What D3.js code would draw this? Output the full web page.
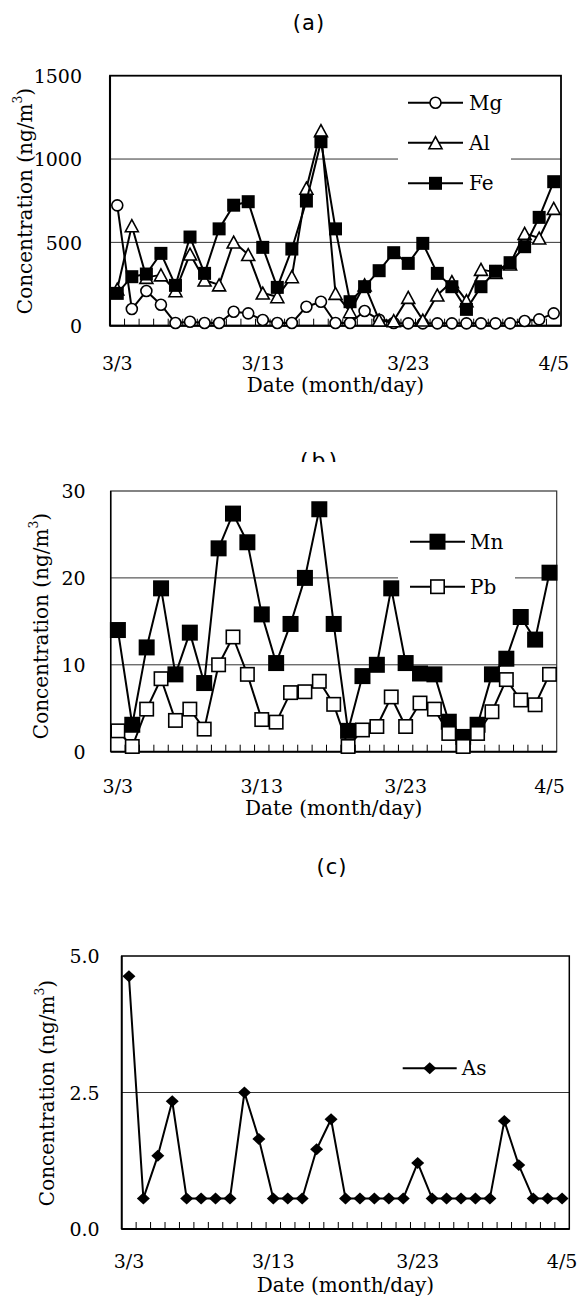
<!DOCTYPE html>
<html><head><meta charset="utf-8">
<script src="https://cdn.jsdelivr.net/npm/d3@7"></script>
<style>body{margin:0;background:#fff}</style>
</head><body>
<svg id="chart" width="585" height="1297"></svg>
<script>
// ---- data ----
const samples = [0,1,2,3,4,5,6,7,8,9,10,11,12,13,14,15,16,17,18,19,20,21,22,23,24,25,26,27,28,29,30];
const xTickIdx = [0,10,20,30];
const xTickLabels = ["3/3","3/13","3/23","4/5"];

const mgValues = [722,100,208,126,16,24,16,16,84,74,34,16,16,114,144,16,16,88,36,16,14,14,14,14,14,14,14,14,28,38,74];
const alValues = [220,600,290,305,210,430,274,245,502,427,196,174,294,825,1170,194,84,245,34,30,170,34,184,264,150,338,320,370,554,526,704];
const feValues = [194,294,310,434,242,532,314,581,723,744,470,230,460,748,1104,581,144,234,330,438,374,494,314,234,98,234,327,378,474,650,864];

const mnValues = [14.0,3.1,12.0,18.8,8.9,13.7,7.9,23.4,27.4,24.1,15.8,10.2,14.7,20.0,27.9,14.7,2.4,8.7,10.0,18.8,10.2,9.0,8.9,3.45,1.7,3.1,8.9,10.7,15.5,12.9,20.6];
const pbValues = [2.4,0.6,4.9,8.4,3.6,4.9,2.6,10.0,13.2,8.9,3.7,3.4,6.8,6.9,8.1,5.45,0.6,2.5,2.9,6.3,2.9,5.6,4.9,2.1,0.6,2.1,4.6,8.3,5.95,5.4,8.9];

const asValues = [4.63,0.56,1.34,2.34,0.56,0.56,0.56,0.56,2.50,1.65,0.56,0.56,0.56,1.46,2.01,0.56,0.56,0.56,0.56,0.56,1.21,0.56,0.56,0.56,0.56,0.56,1.98,1.17,0.56,0.56,0.56];

const yTicksA = [0,500,1000,1500];
const yTicksB = [0,10,20,30];
const yTicksC = [0,2.5,5];

const SERIF = "'DejaVu Serif', serif";
const SANS = "'DejaVu Sans', sans-serif";

const svg = d3.select("#chart");
svg.append("rect").attr("width",585).attr("height",1297).attr("fill","#fff");

// ---- marker shapes ----
function drawMarker(sel, type, size) {
  if (type === "circle") {
    sel.append("circle").attr("r", size/2).attr("fill","#fff").attr("stroke","#000").attr("stroke-width",1.6);
  } else if (type === "triangle") {
    const w = size, h = size*0.92;
    sel.append("path").attr("d", `M0,${-h/2}L${w/2},${h/2}L${-w/2},${h/2}Z`)
      .attr("fill","#fff").attr("stroke","#000").attr("stroke-width",1.6);
  } else if (type === "square") {
    sel.append("rect").attr("x",-size/2).attr("y",-size/2).attr("width",size).attr("height",size).attr("fill","#000");
  } else if (type === "osquare") {
    sel.append("rect").attr("x",-size/2+0.8).attr("y",-size/2+0.8).attr("width",size-1.6).attr("height",size-1.6)
      .attr("fill","#fff").attr("stroke","#000").attr("stroke-width",1.6);
  } else if (type === "diamond") {
    const w = size, h = size*0.92;
    sel.append("path").attr("d", `M0,${-h/2}L${w/2},0L0,${h/2}L${-w/2},0Z`).attr("fill","#000");
  }
}

function yLabel(g, x, y, fs) {
  const t = g.append("text").attr("transform", `translate(${x},${y}) rotate(-90)`)
    .attr("text-anchor","middle").attr("dominant-baseline","central")
    .attr("font-family", SERIF).attr("font-size", fs).attr("fill","#000");
  t.append("tspan").text("Concentration (ng/m");
  t.append("tspan").attr("baseline-shift","super").attr("font-size", fs*0.62).text("3");
  t.append("tspan").text(")");
}

function panel(o) {
  const g = svg.append("g");
  const x = d3.scaleBand().domain(samples).range([o.left, o.right]);
  const y = d3.scaleLinear().domain(o.yDomain).range([o.bottom, o.top]);
  const cx = i => x(i) + x.bandwidth()/2;

  // gridlines
  g.selectAll(null).data(o.grid).join("line")
    .attr("x1", o.left).attr("x2", o.right)
    .attr("y1", d => y(d)).attr("y2", d => y(d))
    .attr("stroke", "#333").attr("stroke-width", 1);

  // legend white backdrop
  if (o.legendBox) {
    const b = o.legendBox;
    g.append("rect").attr("x", b[0]).attr("y", b[1]).attr("width", b[2]).attr("height", b[3]).attr("fill", "#fff");
  }

  // frame
  g.append("rect").attr("x", o.left).attr("y", o.top)
    .attr("width", o.right - o.left).attr("height", o.bottom - o.top)
    .attr("fill", "none").attr("stroke", o.frameColor).attr("stroke-width", o.frameWidth);
  g.append("line").attr("x1", o.left).attr("x2", o.right).attr("y1", o.bottom).attr("y2", o.bottom)
    .attr("stroke", "#000").attr("stroke-width", 2);
  g.append("line").attr("x1", o.left).attr("x2", o.left).attr("y1", o.top).attr("y2", o.bottom)
    .attr("stroke", "#000").attr("stroke-width", o.frameWidth + 0.3);

  // minor ticks at category boundaries, pointing inward
  g.selectAll(null).data(samples.slice(1)).join("line")
    .attr("x1", d => x(d)).attr("x2", d => x(d))
    .attr("y1", o.bottom).attr("y2", o.bottom - 7)
    .attr("stroke", "#000").attr("stroke-width", 1);

  // y axis labels
  const ya = g.append("g").attr("transform", `translate(${o.left},0)`)
    .call(d3.axisLeft(y).tickValues(o.yTicks).tickSize(0).tickPadding(o.yPad).tickFormat(d3.format(o.yFmt)));
  ya.select(".domain").remove();
  ya.selectAll("text").attr("font-family", SERIF).attr("font-size", o.tickFs).attr("fill", "#000").attr("dy", "0.36em");

  // x axis labels
  const xa = g.append("g").attr("transform", `translate(0,${o.bottom})`)
    .call(d3.axisBottom(x).tickValues(xTickIdx).tickSize(0).tickPadding(o.xPad)
      .tickFormat(d => xTickLabels[xTickIdx.indexOf(d)]));
  xa.select(".domain").remove();
  xa.selectAll("text").attr("font-family", SERIF).attr("font-size", o.tickFs).attr("fill", "#000");

  // axis titles
  g.append("text").attr("x", (o.left + o.right)/2).attr("y", o.xTitleY)
    .attr("text-anchor", "middle").attr("font-family", SERIF).attr("font-size", o.titleFs).attr("fill","#000")
    .text("Date (month/day)");
  yLabel(g, o.yTitleX, o.yTitleY, o.titleFs);

  // series
  o.series.forEach(s => {
    const line = d3.line().x((d, i) => cx(samples[i])).y(d => y(d));
    g.append("path").datum(s.values).attr("d", line)
      .attr("fill", "none").attr("stroke", "#000").attr("stroke-width", 2).attr("stroke-linejoin","round");
    g.selectAll(null).data(s.values).join("g")
      .attr("transform", (d, i) => `translate(${cx(samples[i])},${y(d)})`)
      .each(function() { drawMarker(d3.select(this), s.marker, s.size); });
  });

  // legend
  o.series.forEach((s, k) => {
    const ly = o.legend.y[k];
    g.append("line").attr("x1", o.legend.x1).attr("x2", o.legend.x2).attr("y1", ly).attr("y2", ly)
      .attr("stroke", "#000").attr("stroke-width", 2);
    const mg = g.append("g").attr("transform", `translate(${(o.legend.x1 + o.legend.x2)/2},${ly})`);
    drawMarker(mg, s.marker, s.size);
    g.append("text").attr("x", o.legend.tx).attr("y", ly).attr("dy", "0.35em")
      .attr("font-family", SERIF).attr("font-size", o.legendFs).attr("fill","#000").text(s.name);
  });
}

// ---- titles ----
svg.append("text").attr("x", 309).attr("y", 30).attr("text-anchor","middle")
  .attr("font-family", SANS).attr("font-size", 21).attr("letter-spacing", 1).attr("fill","#000").text("(a)");

const clip = svg.append("defs").append("clipPath").attr("id","clipb");
clip.append("rect").attr("x", 0).attr("y", 0).attr("width", 585).attr("height", 462);
svg.append("text").attr("x", 320).attr("y", 468).attr("text-anchor","middle").attr("clip-path","url(#clipb)")
  .attr("font-family", SANS).attr("font-size", 22).attr("letter-spacing", 3).attr("fill","#000").text("(b)");

svg.append("text").attr("x", 332).attr("y", 874).attr("text-anchor","middle")
  .attr("font-family", SANS).attr("font-size", 21).attr("letter-spacing", 1).attr("fill","#000").text("(c)");

// ---- panel (a) ----
panel({
  left: 110, right: 561, top: 75.7, bottom: 325.7,
  yDomain: [0, 1500], yTicks: yTicksA, yFmt: "d", grid: [500, 1000],
  yPad: 28, xPad: 31, tickFs: 19, titleFs: 20, legendFs: 20,
  xTitleY: 392, yTitleX: 25, yTitleY: 201,
  frameColor: "#000", frameWidth: 1.8,
  legendBox: [398, 84, 113, 116],
  legend: { x1: 408, x2: 463, tx: 469, y: [102.7, 142.7, 183.3] },
  series: [
    { name: "Mg", values: mgValues, marker: "circle", size: 11 },
    { name: "Al", values: alValues, marker: "triangle", size: 13 },
    { name: "Fe", values: feValues, marker: "square", size: 13 }
  ]
});

// ---- panel (b) ----
panel({
  left: 110.7, right: 556.7, top: 491, bottom: 751.7,
  yDomain: [0, 30], yTicks: yTicksB, yFmt: "d", grid: [10, 20],
  yPad: 25, xPad: 28, tickFs: 19, titleFs: 20, legendFs: 20,
  xTitleY: 815, yTitleX: 41, yTitleY: 626,
  frameColor: "#333", frameWidth: 1.2,
  legendBox: [398, 520, 117, 85],
  legend: { x1: 410, x2: 465, tx: 470, y: [541.7, 586.7] },
  series: [
    { name: "Mn", values: mnValues, marker: "square", size: 16 },
    { name: "Pb", values: pbValues, marker: "osquare", size: 15 }
  ]
});

// ---- panel (c) ----
panel({
  left: 121.7, right: 569.3, top: 956, bottom: 1229,
  yDomain: [0, 5], yTicks: yTicksC, yFmt: ".1f", grid: [2.5],
  yPad: 22, xPad: 26, tickFs: 19, titleFs: 20, legendFs: 20,
  xTitleY: 1292, yTitleX: 47, yTitleY: 1093,
  frameColor: "#000", frameWidth: 1.5,
  legendBox: null,
  legend: { x1: 402.7, x2: 456.7, tx: 461.7, y: [1068.3] },
  series: [
    { name: "As", values: asValues, marker: "diamond", size: 13 }
  ]
});
</script>
</body></html>
